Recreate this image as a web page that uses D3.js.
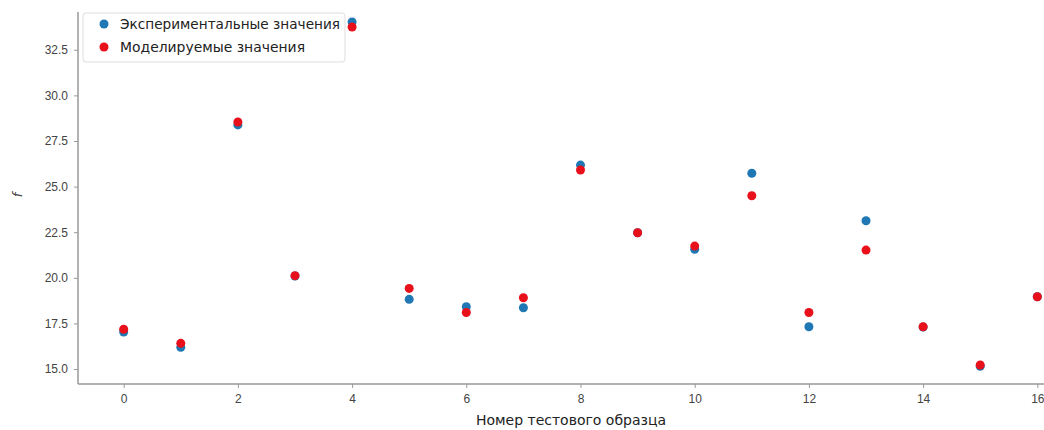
<!DOCTYPE html>
<html>
<head>
<meta charset="utf-8">
<script src="https://cdn.jsdelivr.net/npm/d3@7"></script>
<style>
  body { margin: 0; background: #fff; }
  svg { font-family: "DejaVu Sans", sans-serif; }
  .tick text { fill: #444; font-size: 12px; }
  .tick line, .domain { stroke: #999; }
</style>
</head>
<body>
<svg width="1044" height="430"></svg>
<script>
// номера образцов и значения
var samples = [0, 1, 2, 3, 4, 5, 6, 7, 8, 9, 10, 11, 12, 13, 14, 15, 16];
var experimental = [17.03, 16.19, 28.38, 20.10, 34.02, 18.82, 18.42, 18.36, 26.18, 22.47, 21.56, 25.73, 17.32, 23.13, 17.30, 15.15, 18.96];
var modeled      = [17.18, 16.41, 28.54, 20.12, 33.75, 19.42, 18.10, 18.91, 25.91, 22.47, 21.74, 24.50, 18.10, 21.52, 17.32, 15.22, 18.96];
var xTicks = [0, 2, 4, 6, 8, 10, 12, 14, 16];
var yTicks = [15.0, 17.5, 20.0, 22.5, 25.0, 27.5, 30.0, 32.5];
var seriesNames = ["Экспериментальные значения", "Моделируемые значения"];

var svg = d3.select("svg");
var mLeft = 78, mRight = 1083, mTop = 12, mBottom = 384;

var x = d3.scaleLinear().domain([-0.8, 16.8]).range([mLeft, mRight]);
var y = d3.scaleLinear().domain([14.18, 34.57]).range([mBottom, mTop]);

svg.append("g")
    .attr("transform", "translate(0," + mBottom + ")")
    .call(d3.axisBottom(x).tickValues(xTicks).tickSize(4).tickPadding(6).tickFormat(d3.format("d")))
    .call(function(g) { g.select(".domain").attr("d", "M" + mLeft + ",0H" + mRight).attr("stroke-width", 1.5); });

svg.append("g")
    .attr("transform", "translate(" + mLeft + ",0)")
    .call(d3.axisLeft(y).tickValues(yTicks).tickSize(4).tickPadding(6).tickFormat(d3.format(".1f")))
    .call(function(g) { g.select(".domain").attr("d", "M0," + mTop + "V" + mBottom).attr("stroke-width", 1.5); });

svg.append("text")
    .attr("x", 571).attr("y", 425)
    .attr("text-anchor", "middle")
    .style("font-size", "14px").style("fill", "#222")
    .text("Номер тестового образца");

svg.append("text")
    .attr("transform", "translate(22,195) rotate(-90)")
    .attr("text-anchor", "middle")
    .style("font-size", "13px").style("font-style", "italic").style("fill", "#444")
    .text("f");

// легенда
var legend = svg.append("g");
legend.append("rect")
    .attr("x", 83).attr("y", 13).attr("width", 262).attr("height", 49)
    .attr("rx", 3)
    .attr("fill", "white").attr("fill-opacity", 0.8)
    .attr("stroke", "#ddd");

var colors = ["#1f77b4", "#e8101a"];
[experimental, modeled].forEach(function(vals, i) {
    svg.append("g").selectAll("circle")
        .data(samples)
        .join("circle")
        .attr("cx", function(d) { return x(d); })
        .attr("cy", function(d, j) { return y(vals[j]); })
        .attr("r", 4.5)
        .attr("fill", colors[i]);
});

var legendWidths = [220, 185];
seriesNames.forEach(function(name, i) {
    var ly = 24 + i * 23;
    legend.append("circle").attr("cx", 104).attr("cy", ly).attr("r", 4.5).attr("fill", colors[i]);
    legend.append("text")
        .attr("x", 120).attr("y", ly + 5)
        .attr("textLength", legendWidths[i])
        .attr("lengthAdjust", "spacingAndGlyphs")
        .style("font-size", "14px").style("fill", "#222")
        .text(name);
});
</script>
</body>
</html>
